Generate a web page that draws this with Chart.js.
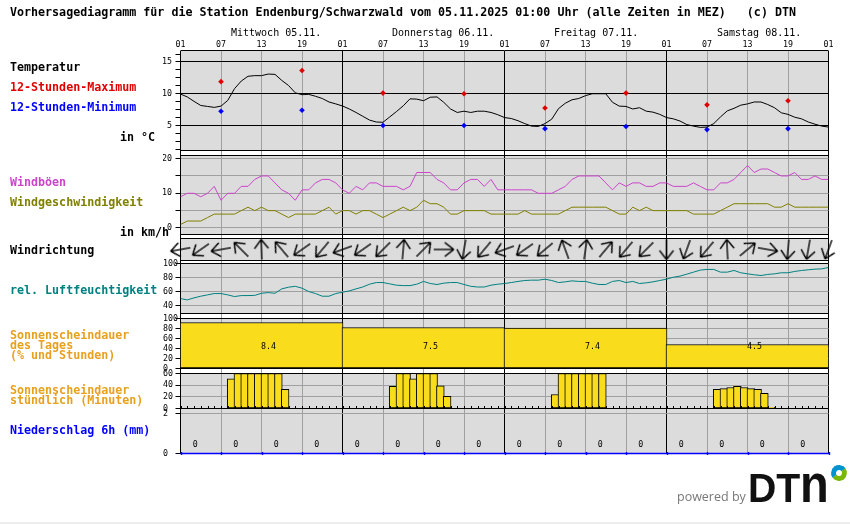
<!DOCTYPE html>
<html lang="de">
<head>
<meta charset="utf-8">
<title>Vorhersagediagramm</title>
<script src="https://cdn.jsdelivr.net/npm/chart.js@4"></script>
<style>
  html, body { margin: 0; padding: 0; background: #fff; }
  #wrap { position: relative; width: 850px; height: 524px; overflow: hidden; }
  canvas { position: absolute; left: 0; top: 0; }
  .t { position: absolute; white-space: pre; line-height: 12px; font: bold 11.67px/12px 'DejaVu Sans Mono', monospace; }
  .day { font: 10px/12px 'DejaVu Sans Mono', monospace; color: #000; }
  #strip { position: absolute; left: 0; right: 0; top: 522px; height: 2px; background: #eee; }
  #powered { position: absolute; left: 677px; top: 489px; font: 12.5px/16px 'Open Sans', sans-serif; color: #777; }
  #logo { position: absolute; left: 748px; top: 465px; font: bold 40px/46px 'Liberation Sans', sans-serif; color: #111; transform: scaleX(0.98); transform-origin: 0 0; }
  #logo span { display: inline-block; transform: scale(1.2, 1.32); transform-origin: 0 37px; }
  #ring { position: absolute; left: 831px; top: 465px; width: 6px; height: 6px; border-radius: 50%; border: 5px solid #0093d0; border-bottom-color: #7ab800; border-right-color: #7ab800; transform: rotate(10deg); }
</style>
</head>
<body>
<div id="wrap">
  <canvas id="chart" width="850" height="524"></canvas>
  <div id="labels"></div>
  <div id="strip"></div>
  <div id="powered">powered by</div>
  <div id="logo">DT<span>n</span></div>
  <div id="ring"></div>
</div>
<script>
const hourLabels = ['01', '07', '13', '19'];
const dayTitles = ['Mittwoch 05.11.', 'Donnerstag 06.11.', 'Freitag 07.11.', 'Samstag 08.11.'];

// hourly values, 97 points from 05.11. 01:00 to 09.11. 01:00
const temperature = [
  9.95, 9.5, 8.8, 8.15, 8.0, 7.85, 8.05, 8.95, 10.8, 12.0, 12.75, 12.85, 12.85, 13.1, 13.05, 12.1, 11.3, 10.15, 9.85, 9.9, 9.6, 9.25, 8.7, 8.4,
  8.07, 7.6, 7.05, 6.45, 5.85, 5.55, 5.5, 6.35, 7.2, 8.1, 9.2, 9.15, 8.9, 9.45, 9.5, 8.65, 7.6, 7.05, 7.25, 7.05, 7.25, 7.25, 7.05, 6.7,
  6.25, 6.1, 5.75, 5.3, 4.9, 4.85, 5.3, 6.0, 7.65, 8.5, 9.05, 9.25, 9.7, 10, 10, 10, 8.65, 8.05, 8.0, 7.6, 7.8, 7.25, 7.1, 6.75,
  6.25, 6.05, 5.7, 5.15, 4.9, 4.7, 4.75, 5.3, 6.35, 7.3, 7.7, 8.2, 8.4, 8.7, 8.7, 8.3, 7.8, 7.0, 6.75, 6.3, 6.05, 5.55, 5.2, 4.9, 4.75
];
const maxHours = [6, 18, 30, 42, 54, 66, 78, 90];
const tempMax = [11.9, 13.65, 10.1, 10, 7.75, 10.1, 8.25, 8.9];
const tempMin = [7.25, 7.4, 5, 5, 4.5, 4.85, 4.35, 4.5];

const gusts = [
  9, 10, 10, 9, 10, 12, 8, 10, 10, 12, 12, 14, 15, 15, 13, 11, 10, 8, 11, 11, 13, 14, 14, 13,
  11, 10, 12, 11, 13, 13, 12, 12, 12, 11, 12, 16, 16, 16, 14, 13, 11, 11, 13, 14, 14, 12, 14, 11,
  11, 11, 11, 11, 11, 10, 10, 10, 11, 12, 14, 15, 15, 15, 15, 13, 11, 13, 12, 13, 13, 12, 12, 13,
  13, 12, 12, 12, 13, 12, 11, 11, 13, 13, 14, 16, 18, 16, 17, 17, 16, 15, 15, 16, 14, 14, 15, 14, 14
];
const windSpeed = [
  1, 2, 2, 2, 3, 4, 4, 4, 4, 5, 6, 5, 6, 5, 5, 4, 3, 4, 4, 4, 4, 5, 6, 4,
  5, 5, 4, 5, 5, 4, 3, 4, 5, 6, 5, 6, 8, 7, 7, 6, 4, 4, 5, 5, 5, 5, 4, 4,
  4, 4, 4, 5, 4, 4, 4, 4, 4, 5, 6, 6, 6, 6, 6, 6, 5, 4, 4, 6, 5, 6, 5, 5,
  5, 5, 5, 5, 4, 4, 4, 4, 5, 6, 7, 7, 7, 7, 7, 7, 6, 6, 7, 6, 6, 6, 6, 6, 6
];
// compass bearing the arrow points to, one arrow every 3 hours
const windDir = [
  260, 235, 260, 315, 358, 320, 235, 220, 250,
  235, 225, 5, 45, 90, 190, 220, 250,
  235, 230, 340, 8, 40, 220, 225, 180,
  200, 220, 357, 50, 100, 185, 190, 200
];
const humidity = [
  50.4, 48.5, 51.4, 53.8, 55.7, 57.6, 57.6, 55.7, 53.3, 54.7, 54.7, 55, 58, 59, 58, 64.3, 66.7, 68, 65.3, 60.5, 57.6, 53.8, 53.8, 57.6,
  59.5, 61.4, 64.3, 67, 71, 73.4, 73.4, 71.5, 69.6, 69, 69, 71, 75, 72, 70.6, 72.5, 73.4, 73.4, 70.6, 68, 67, 67, 69.6, 71,
  72, 73.4, 75, 76.3, 76.8, 76.8, 78.2, 76.3, 73.4, 74.4, 75.8, 75, 75, 72.5, 70.6, 70.6, 75, 76.3, 73.4, 75, 72, 73, 74.4, 76.3,
  78.2, 81, 82.6, 85.4, 88.3, 91.2, 92.2, 92.2, 88.3, 88.3, 90.7, 87.4, 85.9, 84.5, 83.5, 85, 85.9, 87.4, 87.4, 89.3, 90.7, 91.7, 92.6, 93, 95
];
const sunDayPercent = [92, 82, 81, 48];
const sunDayHours = [8.4, 7.5, 7.4, 4.5];
// minutes of sunshine per hour
const sunMinutes = [
  0, 0, 0, 0, 0, 0, 0, 51, 60, 60, 60, 60, 60, 60, 60, 33, 0, 0, 0, 0, 0, 0, 0, 0,
  0, 0, 0, 0, 0, 0, 0, 38, 60, 60, 51, 60, 60, 60, 39, 21, 0, 0, 0, 0, 0, 0, 0, 0,
  0, 0, 0, 0, 0, 0, 0, 24, 60, 60, 60, 60, 60, 60, 60, 0, 0, 0, 0, 0, 0, 0, 0, 0,
  0, 0, 0, 0, 0, 0, 0, 33, 34, 36, 38, 36, 34, 33, 26, 2, 0, 0, 0, 0, 0, 0, 0, 0
];
const rain6h = [0, 0, 0, 0, 0, 0, 0, 0, 0, 0, 0, 0, 0, 0, 0, 0];

const tempTicks = [1.25, 2.5, 3.75, 5, 6.25, 7.5, 8.75, 10, 11.25, 12.5, 13.75, 15, 16.25];
const windTicks = [0, 5, 10, 15, 20];
const humidityTicks = [40, 60, 80, 100];
const sunDayTicks = [0, 20, 40, 60, 80, 100];
const sunHourTicks = [0, 20, 40, 60];
const rainTicks = [0, 2];

const COL = {
  panel: '#dcdcdc', grid: '#a0a0a0', yellow: '#f9dc1c',
  gust: '#cc44cc', wind: '#808000', humid: '#008080', orange: '#e8a020',
  red: '#e00000', blue: '#0000ff'
};
const MONO = "'DejaVu Sans Mono', monospace";

// left hand labels + headings
const textRows = [
  [10, 12, 'Vorhersagediagramm für die Station Endenburg/Schwarzwald vom 05.11.2025 01:00 Uhr (alle Zeiten in MEZ)   (c) DTN', '#000'],
  [10, 67, 'Temperatur', '#000'],
  [10, 87, '12-Stunden-Maximum', COL.red],
  [10, 107, '12-Stunden-Minimum', COL.blue],
  [120, 137, 'in °C', '#000'],
  [10, 182, 'Windböen', COL.gust],
  [10, 202, 'Windgeschwindigkeit', COL.wind],
  [120, 232, 'in km/h', '#000'],
  [10, 250, 'Windrichtung', '#000'],
  [10, 290, 'rel. Luftfeuchtigkeit', COL.humid],
  [10, 335, 'Sonnenscheindauer', COL.orange],
  [10, 345, 'des Tages', COL.orange],
  [10, 355, '(% und Stunden)', COL.orange],
  [10, 390, 'Sonnenscheindauer', COL.orange],
  [10, 400, 'stündlich (Minuten)', COL.orange],
  [10, 430, 'Niederschlag 6h (mm)', COL.blue]
];
const labelBox = document.getElementById('labels');
textRows.forEach(([x, y, txt, col]) => {
  const d = document.createElement('div');
  d.className = 't';
  d.style.cssText = `left:${x}px;top:${y - 6}px;color:${col}`;
  d.textContent = txt;
  labelBox.appendChild(d);
});
[231, 392, 554, 717].forEach((x, i) => {
  const d = document.createElement('div');
  d.className = 't day';
  d.style.cssText = `left:${x}px;top:27px`;
  d.textContent = dayTitles[i];
  labelBox.appendChild(d);
});

// open headed arrow pointing up, turned per point with pointRotation
function makeArrow() {
  const c = document.createElement('canvas');
  c.width = 28; c.height = 28;
  const g = c.getContext('2d');
  g.strokeStyle = '#000';
  g.lineWidth = 1.35;
  g.beginPath();
  g.moveTo(14, 4); g.lineTo(14, 24);
  g.moveTo(14, 4); g.lineTo(7, 13);
  g.moveTo(14, 4); g.lineTo(21, 13);
  g.stroke();
  return c;
}

function fitY(s) {
  s.width = 17.5;
  s.paddingTop = 0;
  s.paddingBottom = 0;
}

// stack member without ticks: the white strips and the wind direction row
function plainAxis(weight, min, max) {
  return {
    type: 'linear', position: 'left', stack: 'panels', stackWeight: weight, min, max,
    ticks: { display: false }, grid: { display: false }, border: { display: false }, afterFit: fitY
  };
}

function panelAxis(weight, min, max, tickList, opts) {
  const o = opts || {};
  return {
    type: 'linear', position: 'left', stack: 'panels', stackWeight: weight, min, max,
    afterFit: fitY,
    afterBuildTicks: s => { s.ticks = tickList.map(value => ({ value })); },
    border: { display: false },
    grid: {
      color: ctx => (ctx.tick && o.gridColor ? o.gridColor(ctx.tick.value) : COL.grid),
      tickColor: '#000', tickLength: 5, lineWidth: 1
    },
    ticks: {
      autoSkip: false, color: '#000', padding: 3.5,
      crossAlign: o.align || 'far',
      font: { family: MONO, size: 8.3 },
      callback: v => (o.label ? o.label(v) : String(v))
    }
  };
}

const panelIds = ['yTemp', 'yWind', 'yDir', 'yHumid', 'ySunDay', 'ySunHour', 'yRain'];

const panelPlugin = {
  id: 'panels',
  beforeDraw(chart) {
    const { ctx, chartArea: a, scales } = chart;
    ctx.save();
    ctx.fillStyle = COL.panel;
    panelIds.forEach(id => {
      const s = scales[id];
      ctx.fillRect(a.left, s.top, a.right - a.left, s.bottom - s.top);
    });
    ctx.restore();
  },
  afterDatasetsDraw(chart) {
    const { ctx, chartArea: a, scales } = chart;
    const x = scales.x;
    ctx.save();
    ctx.strokeStyle = '#000';
    ctx.lineWidth = 1;
    ctx.beginPath();
    panelIds.forEach(id => {
      const s = scales[id];
      ctx.moveTo(a.left, s.top); ctx.lineTo(a.right, s.top);
      if (id !== 'yRain') { ctx.moveTo(a.left, s.bottom); ctx.lineTo(a.right, s.bottom); }
    });
    // hour marks on the sunshine baseline
    const base = scales.ySunHour.bottom;
    sunMinutes.forEach((m, h) => {
      const px = Math.round(x.getPixelForValue(h)) + 0.5;
      ctx.moveTo(px, base); ctx.lineTo(px, base - 2.5);
    });
    ctx.stroke();
    // blue precipitation baseline with 6h marks
    const rb = scales.yRain.bottom;
    ctx.strokeStyle = COL.blue;
    ctx.lineWidth = 1.4;
    ctx.beginPath();
    ctx.moveTo(a.left, rb); ctx.lineTo(a.right + 0.5, rb);
    for (let h = 0; h <= 96; h += 6) {
      const px = Math.round(x.getPixelForValue(h)) + 0.5;
      ctx.moveTo(px, rb - 1.5); ctx.lineTo(px, rb + 1.5);
    }
    ctx.stroke();
    // value texts
    ctx.fillStyle = '#000';
    ctx.font = `8.3px ${MONO}`;
    ctx.textAlign = 'center';
    ctx.textBaseline = 'middle';
    sunDayHours.forEach((v, i) => {
      ctx.fillText(v.toFixed(1), x.getPixelForValue(12 + i * 24) + 7, scales.ySunDay.getPixelForValue(43));
    });
    rain6h.forEach((v, i) => {
      ctx.fillText(String(v), x.getPixelForValue(3 + i * 6) - 5.5, scales.yRain.getPixelForValue(0.42));
    });
    ctx.restore();
  }
};

const hourPts = arr => arr.map((y, h) => ({ x: h, y }));
const lineBase = { type: 'line', borderWidth: 1, pointRadius: 0, tension: 0, fill: false };
const arrow = makeArrow();

new Chart(document.getElementById('chart'), {
  type: 'bar',
  plugins: [panelPlugin],
  data: {
    datasets: [
      { ...lineBase, label: 'Temperatur', data: hourPts(temperature), borderColor: '#000', yAxisID: 'yTemp' },
      { type: 'line', label: '12-Stunden-Maximum', data: maxHours.map((x, i) => ({ x, y: tempMax[i] })), showLine: false, pointStyle: 'rectRot', pointRadius: 2.8, pointBackgroundColor: COL.red, pointBorderWidth: 0, yAxisID: 'yTemp' },
      { type: 'line', label: '12-Stunden-Minimum', data: maxHours.map((x, i) => ({ x, y: tempMin[i] })), showLine: false, pointStyle: 'rectRot', pointRadius: 2.8, pointBackgroundColor: COL.blue, pointBorderWidth: 0, yAxisID: 'yTemp' },
      { ...lineBase, label: 'Windböen', data: hourPts(gusts), borderColor: COL.gust, yAxisID: 'yWind' },
      { ...lineBase, label: 'Windgeschwindigkeit', data: hourPts(windSpeed), borderColor: COL.wind, yAxisID: 'yWind' },
      { type: 'line', label: 'Windrichtung', data: windDir.map((d, i) => ({ x: i * 3, y: 0 })), showLine: false, clip: false, pointStyle: arrow, pointRotation: windDir, pointRadius: 10, yAxisID: 'yDir' },
      { ...lineBase, label: 'rel. Luftfeuchtigkeit', data: hourPts(humidity), borderColor: COL.humid, yAxisID: 'yHumid' },
      { label: 'Sonnenscheindauer des Tages', data: sunDayPercent.map((y, i) => ({ x: 12 + i * 24, y })), grouped: false, barThickness: 163, backgroundColor: COL.yellow, borderColor: '#000', borderWidth: 1, borderSkipped: false, yAxisID: 'ySunDay' },
      { label: 'Sonnenscheindauer stündlich', data: sunMinutes.map((y, h) => ({ x: h + 0.5, y })), grouped: false, barThickness: 7.75, backgroundColor: COL.yellow, borderColor: '#000', borderWidth: 1, borderSkipped: false, yAxisID: 'ySunHour' },
      { label: 'Niederschlag 6h', data: rain6h.map((y, i) => ({ x: 3 + i * 6, y })), grouped: false, barThickness: 40, backgroundColor: COL.blue, yAxisID: 'yRain' }
    ]
  },
  options: {
    responsive: false,
    animation: false,
    devicePixelRatio: 1,
    layout: { padding: { left: 163, right: 21.5, top: 38.5, bottom: 70.5 } },
    plugins: { legend: { display: false }, title: { display: false }, tooltip: { enabled: false } },
    scales: {
      x: {
        type: 'linear', position: 'top', min: 0, max: 96, offset: false,
        border: { display: false },
        grid: {
          offset: false, drawTicks: false, lineWidth: 1,
          color: ctx => (ctx.tick && ctx.tick.value % 24 === 0 ? '#000' : COL.grid)
        },
        ticks: {
          stepSize: 6, autoSkip: false, maxRotation: 0, padding: 1, color: '#000',
          font: { family: MONO, size: 8.3 },
          callback: v => hourLabels[(v % 24) / 6]
        },
        afterFit: s => { s.height = 12; s.paddingLeft = 0; s.paddingRight = 0; }
      },
      // the stack is laid out from the last scale upwards, so bottom panel comes first
      yRain: panelAxis(45, 0, 2.25, rainTicks, { gridColor: v => (v === 0 ? 'transparent' : COL.grid) }),
      ySunHour: panelAxis(35, 0, 60, sunHourTicks),
      gap5: plainAxis(5, 0, 1),
      ySunDay: panelAxis(50, 0, 100, sunDayTicks),
      gap4: plainAxis(5, 0, 1),
      yHumid: panelAxis(50, 29, 100.7, humidityTicks),
      gap3: plainAxis(3, 0, 1),
      yDir: plainAxis(22, -1, 1),
      gap2: plainAxis(4, 0, 1),
      yWind: panelAxis(79, -1.88, 20.9, windTicks, { align: 'near', label: v => (v % 10 === 0 ? String(v) : '') }),
      gap1: plainAxis(5, 0, 1),
      yTemp: panelAxis(100, 1.06, 16.81, tempTicks, {
        align: 'near',
        label: v => (v % 5 === 0 ? String(v) : ''),
        gridColor: v => (v % 5 === 0 ? '#000' : 'transparent')
      })
    }
  }
});
</script>
</body>
</html>
